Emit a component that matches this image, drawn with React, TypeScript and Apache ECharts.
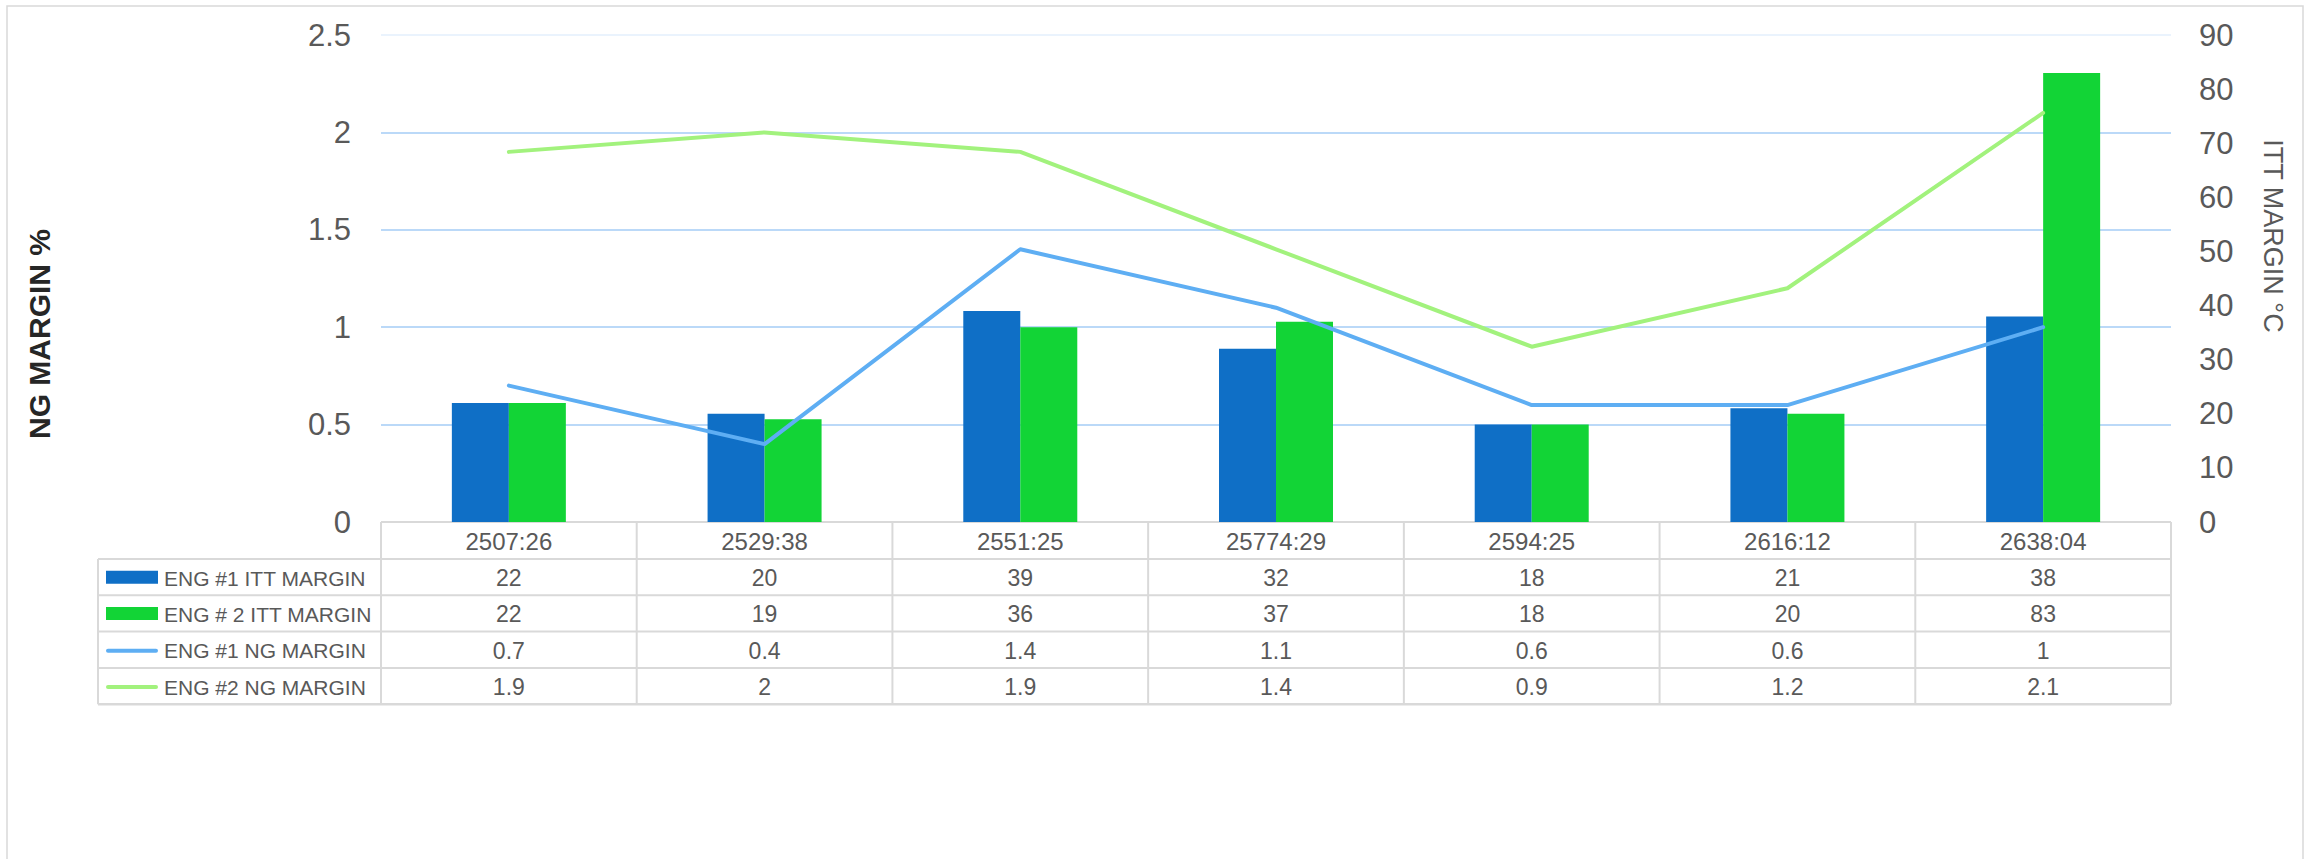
import React, { useEffect, useRef } from "react";
import * as echarts from "echarts";

const categories = ["2507:26", "2529:38", "2551:25", "25774:29", "2594:25", "2616:12", "2638:04"];
const eng1Itt = [22, 20, 39, 32, 18, 21, 38];
const eng2Itt = [22, 19, 36, 37, 18, 20, 83];
const eng1Ng = [0.7, 0.4, 1.4, 1.1, 0.6, 0.6, 1];
const eng2Ng = [1.9, 2, 1.9, 1.4, 0.9, 1.2, 2.1];
const seriesNames = ["ENG #1 ITT MARGIN", "ENG # 2 ITT MARGIN", "ENG #1 NG MARGIN", "ENG #2 NG MARGIN"];

const W = 2315;
const H = 859;
const PLOT_L = 381;
const PLOT_R = 2171;
const PLOT_T = 35;
const PLOT_B = 522;
const TABLE_L = 98;
const CAT_H = 37;
const ROW_H = 36.3;
const FONT = "'Liberation Sans', Arial, sans-serif";
const TXT = "#595959";
const BORDER = "#d9d9d9";
const C_BLUE_BAR = "#0f6fc6";
const C_GREEN_BAR = "#12d436";
const C_BLUE_LINE = "#5eaef3";
const C_GREEN_LINE = "#a2f27d";

export default function App() {
  const ref = useRef<HTMLDivElement>(null);

  useEffect(() => {
    if (!ref.current) return;
    const chart = echarts.init(ref.current, undefined, { renderer: "svg" });
    const colW = (PLOT_R - PLOT_L) / categories.length;
    const rowValues = [eng1Itt, eng2Itt, eng1Ng, eng2Ng];
    const swatchColors = [C_BLUE_BAR, C_GREEN_BAR, C_BLUE_LINE, C_GREEN_LINE];
    const tableBottom = PLOT_B + CAT_H + ROW_H * rowValues.length;

    const g: any[] = [];
    // outer chart border
    g.push({
      type: "rect",
      shape: { x: 7, y: 6, width: 2296, height: 900 },
      style: { fill: "none", stroke: BORDER, lineWidth: 1.5 },
      silent: true,
    });
    // table horizontal lines
    g.push({
      type: "line",
      shape: { x1: PLOT_L, y1: PLOT_B, x2: PLOT_R, y2: PLOT_B },
      style: { stroke: BORDER, lineWidth: 2 },
    });
    for (let r = 0; r <= rowValues.length; r++) {
      const y = PLOT_B + CAT_H + r * ROW_H;
      g.push({
        type: "line",
        shape: { x1: TABLE_L, y1: y, x2: PLOT_R, y2: y },
        style: { stroke: BORDER, lineWidth: r === rowValues.length ? 2.5 : 2 },
      });
    }
    // vertical lines
    g.push({
      type: "line",
      shape: { x1: TABLE_L, y1: PLOT_B + CAT_H, x2: TABLE_L, y2: tableBottom },
      style: { stroke: BORDER, lineWidth: 2 },
    });
    for (let c = 0; c <= categories.length; c++) {
      const x = PLOT_L + c * colW;
      g.push({
        type: "line",
        shape: { x1: x, y1: PLOT_B, x2: x, y2: tableBottom },
        style: { stroke: BORDER, lineWidth: 2 },
      });
    }
    // legend column + values
    rowValues.forEach((vals, r) => {
      const cy = PLOT_B + CAT_H + r * ROW_H + ROW_H / 2;
      if (r < 2) {
        g.push({
          type: "rect",
          shape: { x: 106, y: cy - 6.5, width: 52, height: 13 },
          style: { fill: swatchColors[r] },
        });
      } else {
        g.push({
          type: "line",
          shape: { x1: 108, y1: cy + 1, x2: 156, y2: cy + 1 },
          style: { stroke: swatchColors[r], lineWidth: 4, lineCap: "round" },
        });
      }
      g.push({
        type: "text",
        x: 164,
        y: cy + 1,
        style: {
          text: seriesNames[r],
          fill: TXT,
          font: `21px ${FONT}`,
          textAlign: "left",
          textVerticalAlign: "middle",
        },
      });
      vals.forEach((v, i) => {
        g.push({
          type: "text",
          x: PLOT_L + (i + 0.5) * colW,
          y: cy + 1,
          style: {
            text: String(v),
            fill: TXT,
            font: `23px ${FONT}`,
            textAlign: "center",
            textVerticalAlign: "middle",
          },
        });
      });
    });
    // axis titles
    g.push({
      type: "text",
      x: 39,
      y: 334,
      rotation: Math.PI / 2,
      style: {
        text: "NG MARGIN %",
        fill: "#262626",
        font: `bold 30px ${FONT}`,
        textAlign: "center",
        textVerticalAlign: "middle",
      },
    });
    g.push({
      type: "text",
      x: 2273,
      y: 236,
      rotation: -Math.PI / 2,
      style: {
        text: "ITT MARGIN °C",
        fill: TXT,
        font: `27px ${FONT}`,
        textAlign: "center",
        textVerticalAlign: "middle",
      },
    });

    const gridColor = "#a4cdf6";
    chart.setOption({
      animation: false,
      backgroundColor: "#ffffff",
      grid: { left: PLOT_L, right: W - PLOT_R, top: PLOT_T, bottom: H - PLOT_B, containLabel: false },
      xAxis: {
        type: "category",
        data: categories,
        axisLine: { show: false },
        axisTick: { show: false },
        axisLabel: { color: TXT, fontSize: 24, fontFamily: FONT, margin: 7, interval: 0 },
        splitLine: { show: false },
      },
      yAxis: [
        {
          type: "value",
          min: 0,
          max: 2.5,
          interval: 0.5,
          position: "left",
          axisLine: { show: false },
          axisTick: { show: false },
          axisLabel: { color: TXT, fontSize: 31, fontFamily: FONT, margin: 30 },
          splitLine: {
            show: true,
            lineStyle: {
              color: [BORDER, gridColor, gridColor, gridColor, gridColor, "#e3effc"],
              width: 1.5,
            },
          },
        },
        {
          type: "value",
          min: 0,
          max: 90,
          interval: 10,
          position: "right",
          axisLine: { show: false },
          axisTick: { show: false },
          axisLabel: { color: TXT, fontSize: 31, fontFamily: FONT, margin: 28 },
          splitLine: { show: false },
        },
      ],
      series: [
        {
          name: seriesNames[0],
          type: "bar",
          yAxisIndex: 1,
          data: eng1Itt,
          barWidth: 57,
          barGap: "0%",
          itemStyle: { color: C_BLUE_BAR },
          z: 2,
        },
        {
          name: seriesNames[1],
          type: "bar",
          yAxisIndex: 1,
          data: eng2Itt,
          barWidth: 57,
          barGap: "0%",
          itemStyle: { color: C_GREEN_BAR },
          z: 2,
        },
        {
          name: seriesNames[2],
          type: "line",
          yAxisIndex: 0,
          data: eng1Ng,
          showSymbol: false,
          lineStyle: { color: C_BLUE_LINE, width: 4, cap: "round", join: "round" },
          itemStyle: { color: C_BLUE_LINE },
          z: 3,
        },
        {
          name: seriesNames[3],
          type: "line",
          yAxisIndex: 0,
          data: eng2Ng,
          showSymbol: false,
          lineStyle: { color: C_GREEN_LINE, width: 4, cap: "round", join: "round" },
          itemStyle: { color: C_GREEN_LINE },
          z: 3,
        },
      ],
      graphic: { elements: g },
    });
    return () => chart.dispose();
  }, []);

  return (
    <div
      ref={ref}
      style={{ position: "fixed", left: 0, top: 0, width: W, height: H, background: "#fff" }}
    />
  );
}
